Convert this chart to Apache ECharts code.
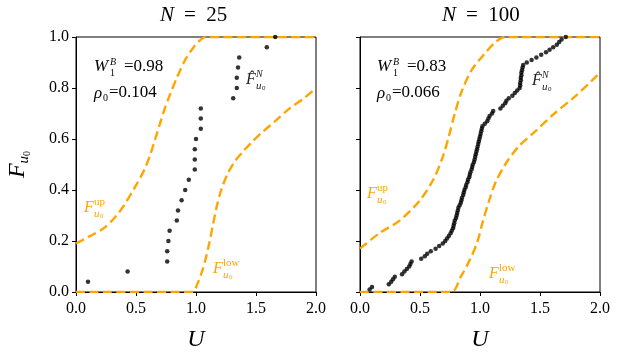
<!DOCTYPE html>
<html>
<head>
<meta charset="utf-8">
<script src="https://cdn.jsdelivr.net/npm/echarts@6/dist/echarts.min.js"></script>
<style>
  html, body { margin: 0; padding: 0; background: #fff; }
  #chart { width: 622px; height: 359px; }
</style>
</head>
<body>
<div id="chart"></div>
<script>
// x ticks / y ticks
var uTicks = [0, 0.5, 1.0, 1.5, 2.0];
var fTicks = [0, 0.2, 0.4, 0.6, 0.8, 1.0];

// N = 25 : empirical cdf
var u25 = [0.10, 0.43, 0.76, 0.76, 0.77, 0.78, 0.84, 0.85, 0.88, 0.91,
           0.94, 0.99, 0.99, 0.99, 1.00, 1.04, 1.04, 1.04, 1.31, 1.34,
           1.34, 1.35, 1.36, 1.59, 1.66];
var f25 = [0.04, 0.08, 0.12, 0.16, 0.20, 0.24, 0.28, 0.32, 0.36, 0.40,
           0.44, 0.48, 0.52, 0.56, 0.60, 0.64, 0.68, 0.72, 0.76, 0.80,
           0.84, 0.88, 0.92, 0.96, 1.00];
// N = 25 : bounds
var up25 = [[0, 0.19], [0.12, 0.22], [0.23, 0.25], [0.32, 0.29], [0.40, 0.34], [0.49, 0.41],
            [0.57, 0.48], [0.62, 0.54], [0.66, 0.60], [0.70, 0.66], [0.74, 0.72], [0.78, 0.77],
            [0.84, 0.84], [0.91, 0.91], [0.98, 0.96], [1.04, 0.99], [1.08, 1.0], [2.0, 1.0]];
var low25 = [[0, 0], [0.97, 0], [1.01, 0.03], [1.05, 0.08], [1.08, 0.13], [1.11, 0.19],
             [1.14, 0.26], [1.17, 0.33], [1.21, 0.40], [1.26, 0.46], [1.32, 0.51], [1.39, 0.55],
             [1.47, 0.59], [1.56, 0.63], [1.66, 0.67], [1.78, 0.72], [1.90, 0.76], [2.0, 0.80]];

// N = 100 : empirical cdf
var u100 = [0.08, 0.10, 0.24, 0.26, 0.275, 0.29, 0.35, 0.37, 0.39, 0.41,
            0.42, 0.43, 0.51, 0.54, 0.56, 0.59, 0.63, 0.66, 0.69, 0.71,
            0.725, 0.74, 0.755, 0.765, 0.775, 0.78, 0.785, 0.79, 0.80, 0.805,
            0.81, 0.815, 0.82, 0.83, 0.84, 0.845, 0.85, 0.86, 0.865, 0.87,
            0.88, 0.885, 0.895, 0.90, 0.91, 0.915, 0.92, 0.93, 0.935, 0.94,
            0.95, 0.955, 0.96, 0.965, 0.97, 0.975, 0.98, 0.985, 0.99, 0.995,
            1.00, 1.005, 1.01, 1.015, 1.02, 1.04, 1.06, 1.07, 1.08, 1.10,
            1.11, 1.17, 1.19, 1.21, 1.22, 1.24, 1.27, 1.29, 1.31, 1.33,
            1.335, 1.335, 1.34, 1.34, 1.345, 1.345, 1.35, 1.355, 1.36, 1.39,
            1.43, 1.47, 1.51, 1.55, 1.58, 1.61, 1.64, 1.66, 1.68, 1.715];
var f100 = [0.01, 0.02, 0.03, 0.04, 0.05, 0.06, 0.07, 0.08, 0.09, 0.10,
            0.11, 0.12, 0.13, 0.14, 0.15, 0.16, 0.17, 0.18, 0.19, 0.20,
            0.21, 0.22, 0.23, 0.24, 0.25, 0.26, 0.27, 0.28, 0.29, 0.30,
            0.31, 0.32, 0.33, 0.34, 0.35, 0.36, 0.37, 0.38, 0.39, 0.40,
            0.41, 0.42, 0.43, 0.44, 0.45, 0.46, 0.47, 0.48, 0.49, 0.50,
            0.51, 0.52, 0.53, 0.54, 0.55, 0.56, 0.57, 0.58, 0.59, 0.60,
            0.61, 0.62, 0.63, 0.64, 0.65, 0.66, 0.67, 0.68, 0.69, 0.70,
            0.71, 0.72, 0.73, 0.74, 0.75, 0.76, 0.77, 0.78, 0.79, 0.80,
            0.81, 0.82, 0.83, 0.84, 0.85, 0.86, 0.87, 0.88, 0.89, 0.90,
            0.91, 0.92, 0.93, 0.94, 0.95, 0.96, 0.97, 0.98, 0.99, 1.00];
// N = 100 : bounds
var up100 = [[0, 0.17], [0.16, 0.23], [0.33, 0.28], [0.50, 0.36], [0.61, 0.44], [0.69, 0.53],
             [0.74, 0.61], [0.79, 0.70], [0.85, 0.79], [0.93, 0.87], [1.03, 0.93], [1.13, 0.98],
             [1.21, 1.0], [2.0, 1.0]];
var low100 = [[0, 0], [0.76, 0], [0.84, 0.06], [0.92, 0.13], [0.98, 0.20], [1.02, 0.27],
              [1.07, 0.35], [1.13, 0.43], [1.21, 0.50], [1.32, 0.57], [1.46, 0.63], [1.62, 0.70],
              [1.80, 0.77], [2.0, 0.86]];

var SERIF = 'Liberation Serif';
var ORANGE = '#FFA500';

function pairs(xs, ys) {
  return xs.map(function (x, i) { return [x, ys[i]]; });
}

// small helper for math-like labels built from pieces
function txt(x, y, s, size, opts) {
  opts = opts || {};
  return {
    type: 'text', x: x, y: y, z: 100,
    style: {
      text: s, fill: opts.color || '#000',
      font: (opts.italic ? 'italic ' : '') + size + 'px "' + SERIF + '"',
      align: opts.align || 'left', verticalAlign: 'middle'
    }
  };
}
function fLabel(x, y, sup, color, hat) {
  var o = {color: color, italic: true};
  var items = [
    txt(x, y, hat ? 'F\u0302' : 'F', 16, {color: color, italic: true, align: 'center'}),
    txt(x + 5, y - 6, sup, sup === 'N' ? 10 : 11, sup === 'N' ? o : {color: color}),
    txt(x + 5, y + 6, 'u', 11, o),
    txt(x + 11, y + 8, '0', 7, {color: color})
  ];
  return items;
}

var graphics = [
  txt(160, 15, 'N', 21, {italic: true}),
  txt(184, 15, '=  25', 21),
  txt(442, 15, 'N', 21, {italic: true}),
  txt(466, 15, '=  100', 21),
  // stats
  txt(94, 67, 'W', 17, {italic: true}),
  txt(110, 62, 'B', 10, {italic: true}),
  txt(110, 73, '1', 10),
  txt(124, 67, '=0.98', 17),
  txt(94, 94, '\u03c1', 17, {italic: true}),
  txt(103, 98, '0', 10),
  txt(109, 93, '=0.104', 17),
  txt(377, 67, 'W', 17, {italic: true}),
  txt(393, 62, 'B', 10, {italic: true}),
  txt(393, 73, '1', 10),
  txt(407, 67, '=0.83', 17),
  txt(377, 94, '\u03c1', 17, {italic: true}),
  txt(386, 98, '0', 10),
  txt(392, 93, '=0.066', 17)
];
graphics = graphics
  .concat(fLabel(251, 80, 'N', '#222', true))
  .concat(fLabel(537, 81, 'N', '#222', true))
  .concat(fLabel(89, 208, 'up', ORANGE))
  .concat(fLabel(218, 269, 'low', ORANGE))
  .concat(fLabel(372, 194, 'up', ORANGE))
  .concat(fLabel(494, 274, 'low', ORANGE));

function xAx(i) {
  return {
    gridIndex: i, type: 'value', min: 0, max: 2, interval: 0.5,
    name: 'U', nameLocation: 'middle', nameGap: 36,
    nameTextStyle: {fontFamily: SERIF, fontStyle: 'italic', fontSize: 24, color: '#000'},
    axisLine: {lineStyle: {color: '#000', width: 1}},
    axisTick: {inside: false, length: 4, lineStyle: {color: '#000'}},
    axisLabel: {fontFamily: SERIF, fontSize: 16, color: '#000', margin: 9,
                formatter: function (v) { return v.toFixed(1); }},
    splitLine: {show: false}
  };
}
function yAx(i) {
  return {
    gridIndex: i, type: 'value', min: 0, max: 1, interval: 0.2,
    name: i === 0 ? '{f|F}{s|u}{z|0}' : '', nameLocation: 'middle', nameGap: 44, nameRotate: 90,
    nameTextStyle: {
      rich: {
        f: {fontFamily: SERIF, fontStyle: 'italic', fontSize: 24, color: '#000', lineHeight: 28},
        s: {fontFamily: SERIF, fontStyle: 'italic', fontSize: 15, color: '#000', verticalAlign: 'bottom', lineHeight: 28},
        z: {fontFamily: SERIF, fontSize: 10, color: '#000', verticalAlign: 'bottom', lineHeight: 24}
      }
    },
    axisLine: {lineStyle: {color: '#000', width: 1}},
    axisTick: {inside: false, length: 4, lineStyle: {color: '#000'}},
    axisLabel: {show: i === 0, fontFamily: SERIF, fontSize: 16, color: '#000', margin: 7,
                formatter: function (v) { return v.toFixed(1); }},
    splitLine: {show: false}
  };
}
function dashed(i, data) {
  return {
    type: 'line', xAxisIndex: i, yAxisIndex: i, data: data, showSymbol: false, symbol: 'none',
    smooth: 0.3,
    lineStyle: {color: ORANGE, width: 2.4, type: [9, 4.5]}, silent: true, animation: false, z: 2
  };
}
function dots(i, data) {
  return {
    type: 'scatter', xAxisIndex: i, yAxisIndex: i, data: data, symbolSize: 4.5,
    itemStyle: {color: '#000'}, silent: true, animation: false, z: 3
  };
}

var chart = echarts.init(document.getElementById('chart'), null, {renderer: 'canvas'});
chart.setOption({
  animation: false,
  backgroundColor: '#fff',
  grid: [
    {left: 76, top: 37, width: 240, height: 255, show: true, borderColor: '#000', borderWidth: 1},
    {left: 360, top: 37, width: 240, height: 255, show: true, borderColor: '#000', borderWidth: 1}
  ],
  xAxis: [xAx(0), xAx(1)],
  yAxis: [yAx(0), yAx(1)],
  series: [
    dashed(0, up25), dashed(0, low25), dots(0, pairs(u25, f25)),
    dashed(1, up100), dashed(1, low100), dots(1, pairs(u100, f100))
  ],
  graphic: graphics
});
</script>
</body>
</html>
